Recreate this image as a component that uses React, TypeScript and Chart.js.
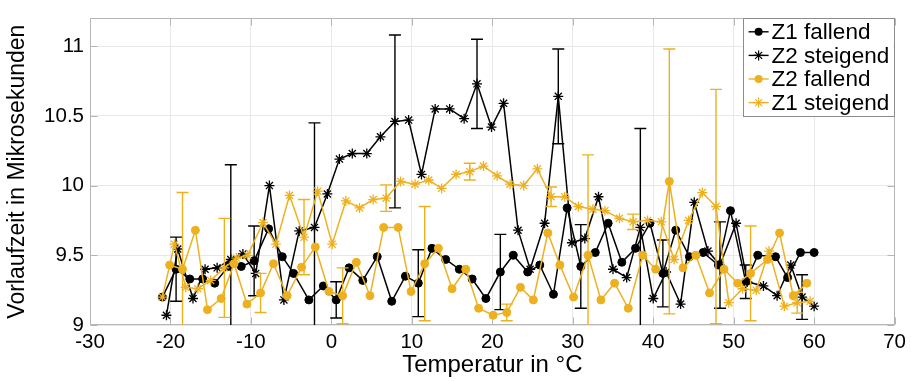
import React, { useEffect, useRef } from "react";
import { Chart, registerables } from "chart.js";

Chart.register(...registerables);

const FONT = "'Liberation Sans', Arial, Helvetica, sans-serif";
const BLACK = "#000000";
const YELLOW = "#EDB120";

const seriesLabels = ["Z1 fallend", "Z2 steigend", "Z2 fallend", "Z1 steigend"];
const xTicks = [-30, -20, -10, 0, 10, 20, 30, 40, 50, 60, 70];
const yTicks = [9, 9.5, 10, 10.5, 11];
const xTitle = "Temperatur in °C";
const yTitle = "Vorlaufzeit in Mikrosekunden";

// Z1 fallend (black circles)
const z1FallendX = [-21.0, -19.3, -17.6, -16.0, -14.5, -12.8, -11.2, -9.6, -7.8, -6.1, -4.7, -2.8, -1.0, 0.6, 2.2, 3.9, 5.7, 7.5, 9.2, 10.8, 12.5, 14.2, 15.9, 17.5, 19.2, 21.0, 22.6, 24.4, 25.9, 27.6, 29.3, 31.0, 32.8, 34.4, 36.1, 37.8, 39.6, 41.2, 42.8, 44.5, 46.2, 48.1, 49.6, 51.5, 53.0, 55.2, 56.7, 58.3, 60.0];
const z1FallendY = [9.20, 9.40, 9.33, 9.33, 9.30, 9.42, 9.42, 9.46, 9.69, 9.49, 9.37, 9.18, 9.28, 9.18, 9.41, 9.32, 9.49, 9.17, 9.35, 9.30, 9.55, 9.47, 9.40, 9.33, 9.19, 9.38, 9.50, 9.38, 9.43, 9.22, 9.84, 9.42, 9.52, 9.73, 9.45, 9.55, 9.73, 9.37, 9.68, 9.49, 9.52, 9.43, 9.82, 9.31, 9.50, 9.49, 9.34, 9.52, 9.52];
const z1FallendErr: [number, number][] = [[1, 0.23], [7, 0.25], [13, 0.13], [19, 0.24], [25, 0.27], [31, 0.30], [37, 0.24], [43, 0.12]];

// Z2 steigend (black stars)
const z2SteigendX = [-20.5, -19.1, -17.2, -15.7, -14.2, -12.5, -11.0, -9.4, -7.7, -5.9, -4.0, -2.1, -0.5, 1.0, 2.6, 4.4, 6.1, 7.9, 9.6, 11.2, 12.9, 14.7, 16.5, 18.1, 19.9, 21.4, 23.2, 24.7, 26.5, 28.2, 29.9, 31.5, 33.2, 35.0, 36.7, 38.4, 40.0, 41.6, 43.4, 45.1, 46.8, 48.3, 50.3, 51.7, 53.7, 55.4, 57.1, 58.5, 60.0];
const z2SteigendY = [9.07, 9.545, 9.19, 9.40, 9.41, 9.47, 9.51, 9.37, 10.00, 9.18, 9.675, 9.70, 9.94, 10.19, 10.23, 10.23, 10.35, 10.46, 10.47, 10.08, 10.55, 10.55, 10.48, 10.73, 10.42, 10.59, 9.68, 9.40, 9.73, 10.64, 9.59, 9.62, 9.92, 9.40, 9.34, 9.70, 9.19, 9.38, 9.15, 9.88, 9.53, 9.43, 9.73, 9.31, 9.28, 9.21, 9.43, 9.20, 9.135];
const z2SteigendErr: [number, number][] = [[5, 0.68], [11, 0.75], [17, 0.62], [23, 0.32], [29, 0.34], [35, 0.71], [41, 0.31], [47, 0.16]];

// Z2 fallend (yellow circles)
const z2FallendX = [-20.1, -18.5, -16.9, -15.4, -13.7, -12.1, -10.5, -8.8, -7.2, -5.5, -3.7, -2.0, -0.3, 1.4, 3.1, 4.8, 6.5, 8.3, 9.9, 11.6, 13.3, 15.0, 16.7, 18.3, 20.1, 21.8, 23.5, 25.1, 26.9, 28.4, 30.1, 31.9, 33.5, 35.2, 36.9, 38.7, 40.3, 42.0, 43.7, 45.3, 47.0, 48.8, 50.5, 52.1, 54.2, 55.7, 57.4, 59.1];
const z2FallendY = [9.43, 9.40, 9.68, 9.11, 9.19, 9.44, 9.15, 9.23, 9.44, 9.21, 9.415, 9.56, 9.24, 9.21, 9.45, 9.21, 9.70, 9.70, 9.24, 9.44, 9.55, 9.26, 9.40, 9.12, 9.07, 9.09, 9.27, 9.18, 9.66, 9.43, 9.20, 9.50, 9.18, 9.30, 9.12, 9.50, 9.40, 10.03, 9.41, 9.50, 9.23, 9.40, 9.30, 9.37, 9.47, 9.66, 9.21, 9.30];
const z2FallendErr: [number, number][] = [[1, 0.55], [7, 0.14], [13, 0.20], [19, 0.41], [25, 0.06], [31, 0.72], [37, 0.95], [43, 0.34]];

// Z1 steigend (yellow stars)
const z1SteigendX = [-21.0, -19.5, -18.1, -16.6, -15.0, -13.3, -11.8, -10.4, -8.5, -6.9, -5.2, -3.4, -1.7, 0.1, 1.8, 3.5, 5.2, 6.8, 8.6, 10.4, 12.1, 13.7, 15.5, 17.2, 18.9, 20.6, 22.2, 23.9, 25.6, 27.3, 29.0, 30.7, 32.5, 34.0, 35.8, 37.5, 39.3, 41.0, 42.6, 44.4, 46.1, 47.8, 49.4, 51.1, 52.8, 54.4, 56.3, 57.9, 59.5];
const z1SteigendY = [9.20, 9.58, 9.27, 9.26, 9.32, 9.41, 9.48, 9.50, 9.735, 9.58, 9.93, 9.63, 9.96, 9.58, 9.89, 9.84, 9.90, 9.91, 10.03, 10.01, 10.04, 9.98, 10.08, 10.10, 10.14, 10.07, 10.01, 10.00, 10.12, 9.92, 9.92, 9.85, 9.83, 9.82, 9.765, 9.74, 9.75, 9.74, 9.47, 9.75, 9.95, 9.85, 9.16, 9.26, 9.25, 9.53, 9.135, 9.16, 9.17];
const z1SteigendErr: [number, number][] = [[5, 0.355], [11, 0.27], [17, 0.095], [23, 0.06], [29, 0.07], [35, 0.055], [41, 0.84], [47, 0.075]];

const toPoints = (xs: number[], ys: number[]) => xs.map((x, i) => ({ x, y: ys[i] }));

const errorBarPlugin = {
  id: "errorBars",
  afterDatasetDraw(chart: any, args: any) {
    const ds = chart.data.datasets[args.index];
    const errs: [number, number][] | undefined = ds.errorBars;
    if (!errs) return;
    const { ctx, chartArea: a, scales } = chart;
    ctx.save();
    ctx.beginPath();
    ctx.rect(a.left, a.top, a.right - a.left, a.bottom - a.top);
    ctx.clip();
    ctx.strokeStyle = ds.borderColor;
    ctx.lineWidth = 1.4;
    for (const [i, e] of errs) {
      const p = ds.data[i];
      const x = scales.x.getPixelForValue(p.x);
      const y1 = scales.y.getPixelForValue(p.y - e);
      const y2 = scales.y.getPixelForValue(p.y + e);
      ctx.beginPath();
      ctx.moveTo(x, y1);
      ctx.lineTo(x, y2);
      ctx.moveTo(x - 6, y1);
      ctx.lineTo(x + 6, y1);
      ctx.moveTo(x - 6, y2);
      ctx.lineTo(x + 6, y2);
      ctx.stroke();
    }
    ctx.restore();
  },
};

const framePlugin = {
  id: "frame",
  beforeDatasetsDraw(chart: any) {
    const { ctx, chartArea: a, scales } = chart;
    ctx.save();
    ctx.strokeStyle = "#b5b5b5";
    ctx.lineWidth = 1;
    const L = Math.round(a.left) + 0.5;
    const R = Math.round(a.right) - 0.5;
    const T = Math.round(a.top) + 0.5;
    const B = Math.round(a.bottom) - 0.5;
    ctx.beginPath();
    ctx.rect(L, T, R - L, B - T);
    for (const v of xTicks) {
      const px = Math.round(scales.x.getPixelForValue(v)) + 0.5;
      ctx.moveTo(px, B);
      ctx.lineTo(px, B - 7);
      ctx.moveTo(px, T);
      ctx.lineTo(px, T + 7);
    }
    for (const v of yTicks) {
      const py = Math.round(scales.y.getPixelForValue(v)) + 0.5;
      ctx.moveTo(L, py);
      ctx.lineTo(L + 7, py);
      ctx.moveTo(R, py);
      ctx.lineTo(R - 7, py);
    }
    ctx.stroke();
    ctx.restore();
  },
};

function drawMarker(ctx: CanvasRenderingContext2D, style: string, x: number, y: number, r: number, color: string) {
  ctx.strokeStyle = color;
  ctx.fillStyle = color;
  if (style === "circle") {
    ctx.beginPath();
    ctx.arc(x, y, r, 0, Math.PI * 2);
    ctx.fill();
  } else {
    ctx.lineWidth = 1.2;
    ctx.beginPath();
    for (let k = 0; k < 4; k++) {
      const ang = (k * Math.PI) / 4;
      ctx.moveTo(x - Math.cos(ang) * r, y - Math.sin(ang) * r);
      ctx.lineTo(x + Math.cos(ang) * r, y + Math.sin(ang) * r);
    }
    ctx.stroke();
  }
}

const legendPlugin = {
  id: "boxLegend",
  afterDraw(chart: any) {
    const { ctx, chartArea: a } = chart;
    const w = 151;
    const h = 98;
    const left = a.right - 1 - w;
    const top = a.top;
    ctx.save();
    ctx.fillStyle = "#ffffff";
    ctx.fillRect(left, top, w, h);
    ctx.strokeStyle = "#8c8c8c";
    ctx.lineWidth = 1;
    ctx.strokeRect(Math.round(left) + 0.5, Math.round(top) + 0.5, w, h);
    chart.data.datasets.forEach((ds: any, i: number) => {
      const y = top + 13.5 + i * 23.6;
      ctx.strokeStyle = ds.borderColor;
      ctx.lineWidth = 1.4;
      ctx.beginPath();
      ctx.moveTo(left + 6, y);
      ctx.lineTo(left + 26, y);
      ctx.stroke();
      drawMarker(ctx, ds.pointStyle, left + 16, y, ds.pointStyle === "circle" ? 4 : 5, ds.borderColor);
      ctx.fillStyle = "#000";
      ctx.font = `22.5px ${FONT}`;
      ctx.textBaseline = "middle";
      ctx.textAlign = "left";
      ctx.fillText(ds.label, left + 29, y + 1);
    });
    ctx.restore();
  },
};

const makeDataset = (label: string, xs: number[], ys: number[], errs: [number, number][], color: string, style: string, order: number) => ({
  label,
  data: toPoints(xs, ys),
  errorBars: errs,
  borderColor: color,
  backgroundColor: color,
  borderWidth: 1.5,
  pointStyle: style,
  pointRadius: style === "circle" ? 4 : 5,
  pointBorderWidth: style === "circle" ? 1 : 1.3,
  pointBackgroundColor: color,
  pointBorderColor: color,
  tension: 0,
  fill: false,
  order,
});

export default function App() {
  const ref = useRef<HTMLCanvasElement | null>(null);
  useEffect(() => {
    document.body.style.margin = "0";
    if (!ref.current) return;
    const chart = new Chart(ref.current, {
      type: "line",
      data: {
        datasets: [
          makeDataset(seriesLabels[0], z1FallendX, z1FallendY, z1FallendErr, BLACK, "circle", 4),
          makeDataset(seriesLabels[1], z2SteigendX, z2SteigendY, z2SteigendErr, BLACK, "star", 3),
          makeDataset(seriesLabels[2], z2FallendX, z2FallendY, z2FallendErr, YELLOW, "circle", 2),
          makeDataset(seriesLabels[3], z1SteigendX, z1SteigendY, z1SteigendErr, YELLOW, "star", 1),
        ] as any,
      },
      options: {
        animation: false,
        responsive: false,
        devicePixelRatio: 1,
        layout: { padding: { top: 15, right: 14, left: 0, bottom: 0 } },
        plugins: { legend: { display: false }, tooltip: { enabled: false } },
        scales: {
          x: {
            type: "linear",
            min: -30,
            max: 70,
            afterBuildTicks: (s: any) => {
              s.ticks = xTicks.map((v) => ({ value: v }));
            },
            afterFit: (s: any) => {
              s.height = 56;
            },
            grid: { color: "#e8e8e8", drawTicks: false, lineWidth: 1 },
            border: { display: false },
            ticks: {
              padding: 5,
              color: "#000",
              autoSkip: false,
              maxRotation: 0,
              font: { family: FONT, size: 20.5 },
              callback: (v: any) => String(v),
            },
            title: {
              display: true,
              text: xTitle,
              color: "#000",
              font: { family: FONT, size: 24 },
              padding: { top: 0, bottom: 1 },
            },
          },
          y: {
            type: "linear",
            min: 9,
            max: 11.2,
            afterBuildTicks: (s: any) => {
              s.ticks = yTicks.map((v) => ({ value: v }));
            },
            afterFit: (s: any) => {
              s.width = 90;
            },
            grid: { color: "#e8e8e8", drawTicks: false, lineWidth: 1 },
            border: { display: false },
            ticks: {
              padding: 6,
              color: "#000",
              font: { family: FONT, size: 20.5 },
              callback: (v: any) => String(v),
            },
            title: {
              display: true,
              text: yTitle,
              color: "#000",
              font: { family: FONT, size: 23 },
              padding: { top: 4, bottom: 0 },
            },
          },
        },
      } as any,
      plugins: [framePlugin, errorBarPlugin, legendPlugin],
    });
    return () => chart.destroy();
  }, []);
  return <canvas ref={ref} width={911} height={381} style={{ display: "block" }} />;
}
